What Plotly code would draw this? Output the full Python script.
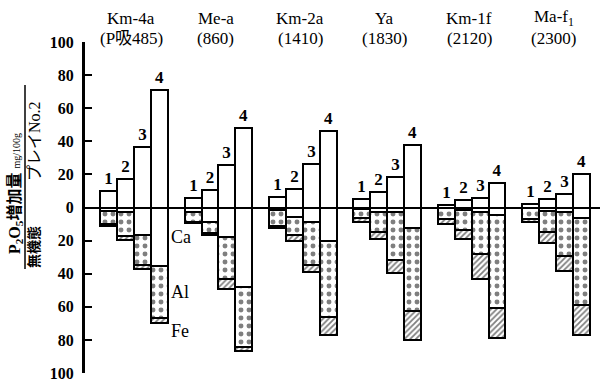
import plotly.graph_objects as go

# ---------------- data ----------------
GROUPS = ["Km-4a", "Me-a", "Km-2a", "Ya", "Km-1f", "Ma-f<sub>1</sub>"]
SUBLABELS = ["(P吸485)", "(860)", "(1410)", "(1830)", "(2120)", "(2300)"]
PLATES = ["1", "2", "3", "4"]

# P2O5 increase (plate No.2), mg/100g  (upper open bars)
POS = [
    [10, 17, 36.5, 71],
    [6, 10.6, 25.8, 48],
    [6.2, 11.4, 26.4, 46.5],
    [5, 9.2, 18.7, 37.9],
    [1.5, 4.5, 6, 15],
    [2, 5.1, 8.2, 20],
]
# inorganic P fractions (lower stacked bars, drawn downward)
CA = [
    [2, 2.5, 16.7, 35.5],
    [2.5, 8.6, 17.7, 48],
    [1.5, 6, 8.6, 20],
    [1, 2.5, 3, 12.6],
    [0.5, 1.5, 2.5, 4.5],
    [0.5, 2, 2.5, 6.5],
]
AL = [
    [8, 15, 18.3, 31.5],
    [6, 6.6, 25.3, 36.4],
    [9.5, 10.7, 26.4, 46],
    [5.5, 12.5, 29, 50],
    [6.5, 12, 25.5, 56.5],
    [6.5, 13, 26.5, 52.5],
]
FE = [
    [1, 2, 2, 2.8],
    [1, 1.5, 6, 2.6],
    [1.5, 3.3, 4, 11],
    [2.5, 4, 7.5, 17.4],
    [3, 5.5, 15, 18],
    [2, 6.7, 9.5, 18],
]
Y_TICKS = [100, 80, 60, 40, 20, 0, -20, -40, -60, -80, -100]

# ---------------- layout constants ----------------
BAR_W = 0.2
SERIF = "Liberation Serif, Noto Sans CJK JP"
L, R, T, B = 85, 0, 42, 9
W, H = 600, 382
XR = [-0.58, 5.52]


def bx(g, b):
    return g + (b - 1.5) * BAR_W


xs, pos, ca, al, fe, txt = [], [], [], [], [], []
for g in range(len(GROUPS)):
    for b in range(len(PLATES)):
        xs.append(bx(g, b))
        pos.append(POS[g][b])
        ca.append(CA[g][b])
        al.append(AL[g][b])
        fe.append(FE[g][b])
        txt.append(PLATES[b])

line = dict(color="black", width=2)
numfont = dict(family=SERIF, size=17, color="black", weight="bold")
fig = go.Figure()
fig.add_trace(go.Bar(
    x=xs, y=pos, base=[0] * len(xs), width=BAR_W,
    marker=dict(color="white", line=line),
    text=txt, textposition="outside", cliponaxis=False,
    textfont=numfont, outsidetextfont=numfont,
    hoverinfo="skip", showlegend=False))
fig.add_trace(go.Bar(
    x=xs, y=[-v for v in ca], base=[0] * len(xs), width=BAR_W,
    marker=dict(color="white", line=line), hoverinfo="skip", showlegend=False))
fig.add_trace(go.Bar(
    x=xs, y=[-v for v in al], base=[-c for c in ca], width=BAR_W,
    marker=dict(color="white", line=line,
                pattern=dict(shape=".", fgcolor="black", bgcolor="white",
                             size=8, solidity=0.3)),
    hoverinfo="skip", showlegend=False))
fig.add_trace(go.Bar(
    x=xs, y=[-v for v in fe], base=[-(c + a) for c, a in zip(ca, al)], width=BAR_W,
    marker=dict(color="white", line=line,
                pattern=dict(shape="/", fgcolor="black", bgcolor="white",
                             size=4, solidity=0.45)),
    hoverinfo="skip", showlegend=False))

ann = []
# group labels
for g, (n, s) in enumerate(zip(GROUPS, SUBLABELS)):
    ann.append(dict(x=g - 0.03, y=1, xref="x", yref="paper", yshift=24,
                    yanchor="middle", xanchor="center",
                    text=n, showarrow=False,
                    font=dict(family=SERIF, size=17, color="black")))
    ann.append(dict(x=g - 0.03, y=1, xref="x", yref="paper", yshift=4,
                    yanchor="middle", xanchor="center",
                    text=s, showarrow=False,
                    font=dict(family=SERIF, size=17, color="black")))

# fraction labels next to first group, last bar
xl = bx(0, 3) + BAR_W / 2
c4, a4, f4 = CA[0][3], AL[0][3], FE[0][3]
for lab, yv in [("Ca", -c4 / 2), ("Al", -(c4 + a4 / 2)), ("Fe", -(c4 + a4 + f4) - 5)]:
    ann.append(dict(x=xl, y=yv, xref="x", yref="y", xanchor="left", xshift=1,
                    yanchor="middle",
                    text=lab, showarrow=False,
                    font=dict(family=SERIF, size=18, color="black")))


def px(p):
    return (p - L) / (W - L - R)


def py(p):
    return (H - B - p) / (H - T - B)


ann.append(dict(x=px(15), y=py(194), xref="paper", yref="paper", textangle=-90,
                xanchor="center", yanchor="middle",
                text="<b>P<sub>2</sub>O<sub>5</sub>増加量</b> <span style='font-size:10px'>mg/100g</span>",
                showarrow=False, font=dict(family=SERIF, size=16, color="black")))
ann.append(dict(x=px(34), y=py(247), xref="paper", yref="paper", textangle=-90,
                xanchor="center", yanchor="middle",
                text="<b>無機態</b>", showarrow=False,
                font=dict(family=SERIF, size=14, color="black")))
ann.append(dict(x=px(34), y=py(141), xref="paper", yref="paper", textangle=-90,
                xanchor="center", yanchor="middle",
                text="プレイNo.2", showarrow=False,
                font=dict(family=SERIF, size=16, color="black")))

shapes = [dict(type="line", xref="paper", yref="paper",
               x0=px(25), x1=px(25), y0=py(85), y1=py(269),
               line=dict(color="black", width=1.5))]

fig.update_layout(
    width=W, height=H, margin=dict(l=L, r=R, t=T, b=B),
    paper_bgcolor="white", plot_bgcolor="white",
    barmode="overlay", bargap=0,
    annotations=ann, shapes=shapes,
    xaxis=dict(range=XR, visible=False, fixedrange=True),
    yaxis=dict(range=[-100, 100], tickvals=Y_TICKS,
               ticktext=[str(abs(v)) for v in Y_TICKS],
               showgrid=False, showline=True, linecolor="black", linewidth=3,
               ticks="inside", ticklen=7, tickwidth=2, tickcolor="black",
               zeroline=True, zerolinecolor="black", zerolinewidth=2,
               ticklabelstandoff=5, fixedrange=True,
               tickfont=dict(family=SERIF, size=16, color="black", weight="bold")),
)

fig.write_html("out.html")
